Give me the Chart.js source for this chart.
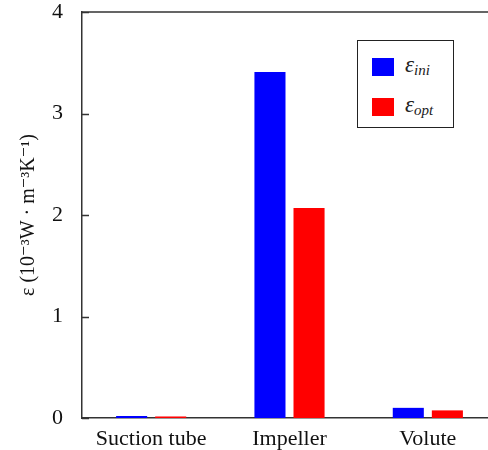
<!DOCTYPE html>
<html>
<head>
<meta charset="utf-8">
<script src="https://cdn.jsdelivr.net/npm/chart.js@4.4.0/dist/chart.umd.min.js"></script>
<style>
    html, body { margin: 0; padding: 0; background: #fff; }
    #wrap { position: relative; width: 488px; height: 450px; overflow: hidden; }
    #box { position: absolute; left: 0; top: 0; width: 500px; height: 450px; }
    #legend {
        position: absolute; left: 357px; top: 40px; width: 95px; height: 86px;
        border: 1.5px solid #222; background: #fff;
        font-family: "Liberation Serif", "DejaVu Serif", serif;
    }
    #legend .row { position: absolute; left: 14px; height: 18px; }
    #legend .sw { position: absolute; left: 0; top: 0; width: 22px; height: 18px; }
    #legend .lab { position: absolute; left: 33px; top: -6px; font-size: 23px; font-style: italic; white-space: nowrap; color: #222; }
    #legend .lab sub { font-size: 15px; vertical-align: -3px; }
</style>
</head>
<body>
<div id="wrap">
    <div id="box"><canvas id="loss-chart" width="500" height="450"></canvas></div>
    <div id="legend">
        <div class="row" style="top:17px"><div class="sw" style="background:#0000ff"></div><span class="lab">&epsilon;<sub>ini</sub></span></div>
        <div class="row" style="top:57px"><div class="sw" style="background:#ff0000"></div><span class="lab">&epsilon;<sub>opt</sub></span></div>
    </div>
</div>
<script>
// components of the pump
var parts = ["Suction tube", "Impeller", "Volute"];
// entropy production rate, initial and optimised design
var epsIni = [0.02, 3.41, 0.10];
var epsOpt = [0.015, 2.07, 0.075];
var yTicks = [0, 1, 2, 3, 4];

var axisColor = "#333";
var serif = "'Liberation Serif', 'DejaVu Serif', serif";

// top frame line and short inward tick marks on the y axis
var framePlugin = {
    id: 'frame',
    afterDraw: function (chart) {
        var c = chart.ctx, a = chart.chartArea, y = chart.scales.y;
        c.save();
        c.strokeStyle = axisColor;
        c.lineWidth = 1.5;
        c.beginPath();
        c.moveTo(a.left, a.top);
        c.lineTo(chart.width, a.top);
        y.ticks.forEach(function (t) {
            var py = Math.round(y.getPixelForValue(t.value)) + 0.5;
            c.moveTo(a.left, py);
            c.lineTo(a.left + 7, py);
        });
        c.stroke();
        c.restore();
    }
};

var ctx = document.getElementById("loss-chart").getContext('2d');
new Chart(ctx, {
    type: 'bar',
    data: {
        labels: parts,
        datasets: [
            { label: 'ε ini', data: epsIni, backgroundColor: '#0000ff', borderWidth: 0 },
            { label: 'ε opt', data: epsOpt, backgroundColor: '#ff0000', borderWidth: 0 }
        ]
    },
    options: {
        responsive: false,
        animation: false,
        categoryPercentage: 0.565,
        barPercentage: 0.795,
        layout: { padding: { top: 12, right: 3, left: 0, bottom: 0 } },
        plugins: { legend: { display: false }, tooltip: { enabled: false } },
        scales: {
            x: {
                grid: { display: false },
                border: { display: true, color: axisColor, width: 1.5 },
                ticks: { color: '#111', padding: 0, font: { family: serif, size: 22 } },
                afterFit: function (s) {
                    s.height = 32;
                    s.paddingLeft = 0;
                    s.paddingRight = 0;
                }
            },
            y: {
                min: 0,
                max: 4,
                afterBuildTicks: function (s) { s.ticks = yTicks.map(function (v) { return { value: v }; }); },
                grid: { display: false },
                border: { display: true, color: axisColor, width: 1.5 },
                ticks: { color: '#111', padding: 11, font: { family: serif, size: 22 } },
                title: {
                    display: true,
                    text: 'ε (10⁻³W · m⁻³K⁻¹)',
                    color: '#111',
                    padding: { top: 17, bottom: 0 },
                    font: { family: serif, size: 20 }
                },
                afterFit: function (s) {
                    s.width = 82;
                    s.paddingTop = 0;
                    s.paddingBottom = 0;
                }
            }
        }
    },
    plugins: [framePlugin]
});
</script>
</body>
</html>
